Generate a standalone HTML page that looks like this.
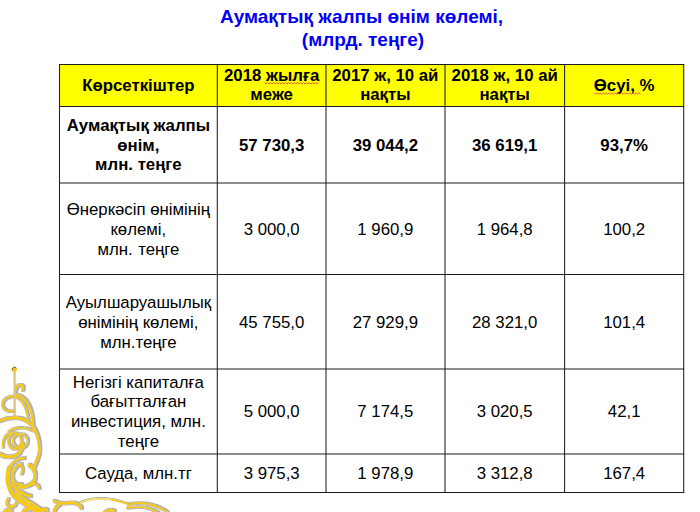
<!DOCTYPE html>
<html><head><meta charset="utf-8">
<style>
html,body{margin:0;padding:0;background:#fff;}
body{width:700px;height:512px;position:relative;overflow:hidden;font-family:"Liberation Sans",sans-serif;color:#000;}
.t{position:absolute;left:0;width:723px;text-align:center;font-weight:bold;font-size:19px;line-height:23.2px;color:#0000f5;white-space:nowrap;}
.yel{position:absolute;left:59px;top:64px;width:625px;height:42px;background:#ffff00;}
.c{position:absolute;display:flex;align-items:center;justify-content:center;text-align:center;font-size:16.8px;line-height:19.8px;white-space:nowrap;}
.b{font-weight:bold;}
svg{position:absolute;left:0;top:0;}
</style></head><body>
<div class="t" style="top:5.1px;">Аумақтық жалпы өнім көлемі,</div>
<div class="t" style="top:27.6px;left:1.5px;">(млрд. теңге)</div>
<div class="yel"></div>

<!-- header -->
<div class="c b" style="left:59.4px;width:158px;top:64.7px;height:42.3px;"><div>Көрсеткіштер</div></div>
<div class="c b" style="left:217.4px;width:108.5px;top:64.2px;height:42.3px;"><div>2018 жылға<br>меже</div></div>
<div class="c b" style="left:325.9px;width:118.9px;top:64.2px;height:42.3px;"><div>2017 ж, 10 ай<br>нақты</div></div>
<div class="c b" style="left:444.8px;width:119.8px;top:64.2px;height:42.3px;"><div>2018 ж, 10 ай<br>нақты</div></div>
<div class="c b" style="left:564.6px;width:119.1px;top:64.7px;height:42.3px;"><div>Өсуі, %</div></div>

<!-- row 1 -->
<div class="c b" style="left:59.4px;width:158px;top:107.2px;height:76.8px;"><div>Аумақтық жалпы<br>өнім,<br>млн. теңге</div></div>
<div class="c b" style="left:217.4px;width:108.5px;top:107.2px;height:76.8px;"><div>57 730,3</div></div>
<div class="c b" style="left:325.9px;width:118.9px;top:107.2px;height:76.8px;"><div>39 044,2</div></div>
<div class="c b" style="left:444.8px;width:119.8px;top:107.2px;height:76.8px;"><div>36 619,1</div></div>
<div class="c b" style="left:564.6px;width:119.1px;top:107.2px;height:76.8px;"><div>93,7%</div></div>

<!-- row 2 -->
<div class="c" style="left:59.4px;width:158px;top:184.1px;height:91.2px;"><div>Өнеркәсіп өнімінің<br>көлемі,<br>млн.<span style="display:inline-block;width:0.8px"></span> теңге</div></div>
<div class="c" style="left:217.4px;width:108.5px;top:184.1px;height:91.2px;"><div>3 000,0</div></div>
<div class="c" style="left:325.9px;width:118.9px;top:184.1px;height:91.2px;"><div>1 960,9</div></div>
<div class="c" style="left:444.8px;width:119.8px;top:184.1px;height:91.2px;"><div>1 964,8</div></div>
<div class="c" style="left:564.6px;width:119.1px;top:184.1px;height:91.2px;"><div>100,2</div></div>

<!-- row 3 -->
<div class="c" style="left:59.4px;width:158px;top:275.4px;height:94.6px;"><div>Ауылшаруашылық<br>өнімінің көлемі,<br>млн.теңге</div></div>
<div class="c" style="left:217.4px;width:108.5px;top:275.4px;height:94.6px;"><div>45 755,0</div></div>
<div class="c" style="left:325.9px;width:118.9px;top:275.4px;height:94.6px;"><div>27 929,9</div></div>
<div class="c" style="left:444.8px;width:119.8px;top:275.4px;height:94.6px;"><div>28 321,0</div></div>
<div class="c" style="left:564.6px;width:119.1px;top:275.4px;height:94.6px;"><div>101,4</div></div>

<!-- row 4 -->
<div class="c" style="left:59.4px;width:158px;top:369.7px;height:85.1px;"><div>Негізгі капиталға<br>бағытталған<br>инвестиция, млн.<br>теңге</div></div>
<div class="c" style="left:217.4px;width:108.5px;top:369.7px;height:85.1px;"><div>5 000,0</div></div>
<div class="c" style="left:325.9px;width:118.9px;top:369.7px;height:85.1px;"><div>7 174,5</div></div>
<div class="c" style="left:444.8px;width:119.8px;top:369.7px;height:85.1px;"><div>3 020,5</div></div>
<div class="c" style="left:564.6px;width:119.1px;top:369.7px;height:85.1px;"><div>42,1</div></div>

<!-- row 5 -->
<div class="c" style="left:59.4px;width:158px;top:454.9px;height:38.3px;"><div>Сауда, млн.тг</div></div>
<div class="c" style="left:217.4px;width:108.5px;top:454.9px;height:38.3px;"><div>3 975,3</div></div>
<div class="c" style="left:325.9px;width:118.9px;top:454.9px;height:38.3px;"><div>1 978,9</div></div>
<div class="c" style="left:444.8px;width:119.8px;top:454.9px;height:38.3px;"><div>3 312,8</div></div>
<div class="c" style="left:564.6px;width:119.1px;top:454.9px;height:38.3px;"><div>167,4</div></div>

<svg width="700" height="512" viewBox="0 0 700 512">
<g stroke="#1e1e1e" stroke-width="1.05" fill="none">
<line x1="59.0" y1="64.5" x2="684.2" y2="64.5"/>
<line x1="59.0" y1="106.5" x2="684.2" y2="106.5"/>
<line x1="59.0" y1="183.0" x2="684.2" y2="183.0"/>
<line x1="59.0" y1="274.5" x2="684.2" y2="274.5"/>
<line x1="59.0" y1="369.0" x2="684.2" y2="369.0"/>
<line x1="59.0" y1="454.0" x2="684.2" y2="454.0"/>
<line x1="59.0" y1="492.5" x2="684.2" y2="492.5"/>
<line x1="59.5" y1="64.0" x2="59.5" y2="493.0"/>
<line x1="217.3" y1="64.0" x2="217.3" y2="493.0"/>
<line x1="326.0" y1="64.0" x2="326.0" y2="493.0"/>
<line x1="445.0" y1="64.0" x2="445.0" y2="493.0"/>
<line x1="564.6" y1="64.0" x2="564.6" y2="493.0"/>
<line x1="683.7" y1="64.0" x2="683.7" y2="493.0"/>
</g>
<g fill="none" stroke="#e0503c" stroke-width="0.9">
<path d="M264.5,82.6 L266.0,84.0 L267.5,82.6 L269.0,84.0 L270.5,82.6 L272.0,84.0 L273.5,82.6 L275.0,84.0 L276.5,82.6 L278.0,84.0 L279.5,82.6 L281.0,84.0 L282.5,82.6 L284.0,84.0 L285.5,82.6 L287.0,84.0 L288.5,82.6 L290.0,84.0 L291.5,82.6 L293.0,84.0 L294.5,82.6 L296.0,84.0 L297.5,82.6 L299.0,84.0 L300.5,82.6 L302.0,84.0 L303.5,82.6 L305.0,84.0 L306.5,82.6 L308.0,84.0 L309.5,82.6 L311.0,84.0 L312.5,82.6 L314.0,84.0 L315.5,82.6 L317.0,84.0 L318.5,82.6"/>
<path d="M594,92.8 L595.5,94.2 L597.0,92.8 L598.5,94.2 L600.0,92.8 L601.5,94.2 L603.0,92.8 L604.5,94.2 L606.0,92.8 L607.5,94.2 L609.0,92.8 L610.5,94.2 L612.0,92.8 L613.5,94.2 L615.0,92.8 L616.5,94.2 L618.0,92.8 L619.5,94.2 L621.0,92.8 L622.5,94.2 L624.0,92.8 L625.5,94.2 L627.0,92.8 L628.5,94.2 L630.0,92.8 L631.5,94.2 L633.0,92.8 L634.5,94.2 L636.0,92.8 L637.5,94.2 L639.0,92.8 L640.5,94.2"/>
</g>
</svg>
<svg width="700" height="512" viewBox="0 0 700 512">
<defs>
<g id="orn" fill="none" stroke-linecap="round">
<path d="M15,394 C15,388 17,385 20,385 C23,385 24,388 22,390" stroke-width="1.8"/>
<path d="M17,396 C10,396 3,398 2,404 C2,410 8,412 13,411" stroke-width="1.6"/>
<path d="M17,395 C26,397 32,408 33,424" stroke-width="1.8"/>
<path d="M16,397 C22,399 27,408 28,421" stroke-width="1.6"/>
<path d="M-1,421 C8,417 20,416 28,422 C36,428 40,440 39,452 C38,458 36,462 34,467" stroke-width="2.4"/>
<path d="M2.5,447 C1.5,441 4,435 11,433" stroke-width="1.5"/>
<ellipse cx="14.5" cy="441" rx="6.5" ry="8" stroke-width="1.5"/>
<ellipse cx="20" cy="441" rx="7.5" ry="7" stroke-width="1.4"/>
<path d="M8,432 C14,427 24,426 33,431" stroke-width="1.3"/>
<path d="M-1,454 C5,458 14,458 19,453 C21,450 22,447 22,444" stroke-width="2.8"/>
<path d="M24,458 C18,458 12,462 9,468" stroke-width="2"/>
<path d="M9,468 C6,476 7,488 14,496 C20,502 30,507 42,514" stroke-width="3.6"/>
<path d="M21,464 C16,465 12,470 12,477 C12,482 16,485 21,484" stroke-width="2.2"/>
<path d="M20,465 C23,467 23,471 21,474" stroke-width="1.6"/>
<path d="M29,465 C35,469 37,478 32,483 C28,487 23,487 19,487" stroke-width="2.8"/>
<path d="M31,484 C35,483 37,484 39,488" stroke-width="1.8"/>
<path d="M12,484 C16,490 22,494 30,496" stroke-width="2.6"/>
<path d="M16,493 C24,500 34,504 46,514" stroke-width="2.6"/>
<path d="M8,499 C5,503 7,507 11,507 C13,507 15,505 16,503" stroke-width="2"/>
<path d="M3,514 C5,510 8,509 11,511" stroke-width="2.4"/>
<path d="M22,514 C23,510 26,508 29,510" stroke-width="2.4"/>
<path d="M54,501 C58,503 62,504 68,503 C74,502 79,504 81,508" stroke-width="2.4"/>
<path d="M60,504 C56,506 54,509 53,514" stroke-width="2.4"/>
<path d="M128,504 C140,502 150,503 160,508 C163,509 166,511 168,514" stroke-width="1.8"/>
<path d="M127,508 C138,506 150,507 158,513" stroke-width="1.6"/>
<path d="M36,514 C40,509 44,508 47,510" stroke-width="2.2"/>
<path d="M103,514 C106,510 110,509 114,511" stroke-width="2.2"/>
</g>
</defs>
<filter id="edge" x="-10%" y="-10%" width="120%" height="120%"><feMorphology in="SourceAlpha" operator="dilate" radius="0.5" result="d"/><feOffset in="d" dx="0.5" dy="-0.5" result="o"/><feFlood flood-color="#444" flood-opacity="0.42"/><feComposite in2="o" operator="in" result="s"/><feMerge><feMergeNode in="s"/><feMergeNode in="SourceGraphic"/></feMerge></filter>
<g stroke="#f7ca0a" filter="url(#edge)"><use href="#orn"/></g>
<path d="M14.6,372 L14.6,417" stroke="#d9c47c" stroke-width="2.2"/>
<path d="M80,503 C90,498 110,496 132,506" fill="none" stroke="#9a9a9a" stroke-width="0.9" transform="translate(0,-1.3)"/><path d="M80,503 C90,498 110,496 132,506" fill="none" stroke="#f1dc7a" stroke-width="2.4"/><path d="M112,500 C120,501 127,503 132,506" fill="none" stroke="#f3c81a" stroke-width="1.4"/>
<circle cx="14.4" cy="369.6" r="2.5" fill="#f2c410"/><path d="M12.2,370 A2.4,2.4 0 0 1 16.4,368" fill="none" stroke="#333" stroke-width="1" opacity="0.7"/>
</svg>
</body></html>
